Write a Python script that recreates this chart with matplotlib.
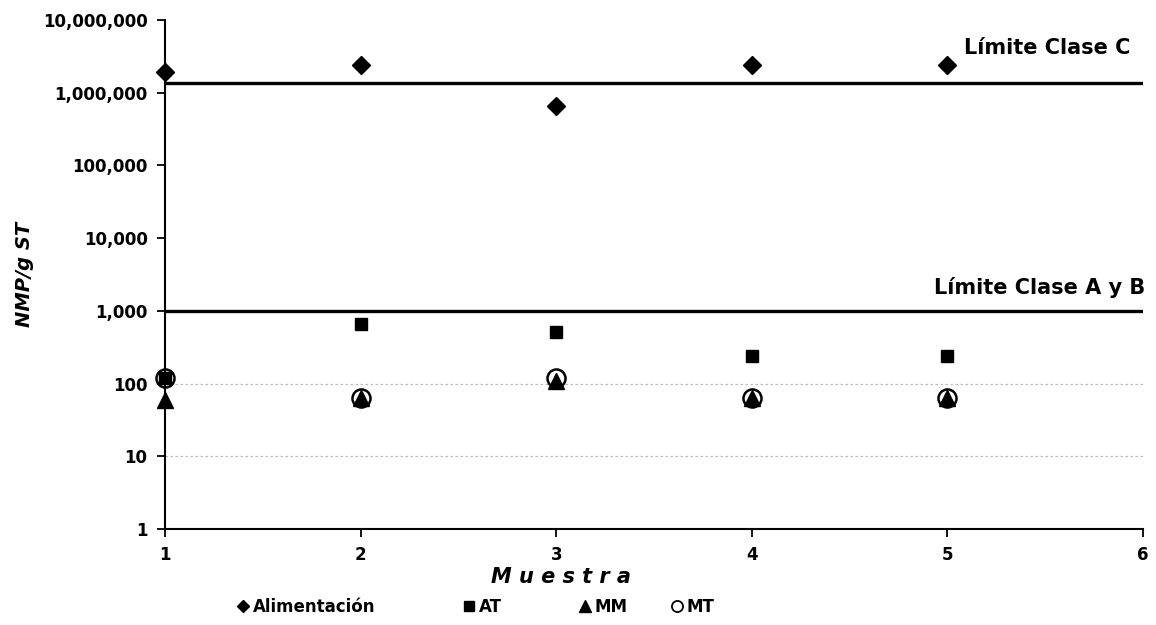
import matplotlib
matplotlib.use("Agg")
import matplotlib.pyplot as plt
from matplotlib.lines import Line2D
from matplotlib.ticker import FixedLocator, FuncFormatter

plt.rcParams['font.family'] = ['DejaVu Sans']

# Sample number
muestra = [1, 2, 3, 4, 5]

# NMP/g ST by sampling point
alimentacion = [1.9e6, 2.4e6, 6.5e5, 2.4e6, 2.4e6]
at_vals = [120, 650, 520, 240, 240]
mm_vals = [60, 64, 110, 64, 64]
mt_vals = [120, 64, 120, 64, 64]

# Regulatory limits
limite_c = 1.37e6
limite_ab = 1000

y_ticks = [1, 10, 100, 1000, 10000, 100000, 1000000, 10000000]
x_ticks = [1, 2, 3, 4, 5, 6]

W, H = 1156, 625
fig = plt.figure(figsize=(W / 100, H / 100), dpi=100)
ax = fig.add_axes([165 / W, 1 - 529 / H, 978 / W, 509 / H])

ax.set_yscale('log')
ax.set_ylim(1, 1e7)
ax.set_xlim(1, 6)

# faint gridlines
for g in (10, 100):
    ax.axhline(g, color='#bdbdbd', lw=0.9, ls=(0, (2, 2)), zorder=1)

ax.axhline(limite_c, color='black', lw=2.4, zorder=2)
ax.axhline(limite_ab, color='black', lw=2.4, zorder=2)

series = [
    ('Alimentación', alimentacion, dict(marker='D', ms=9.5, color='black'), 5),
    ('AT', at_vals, dict(marker='s', ms=9, color='black'), 4),
    ('MM', mm_vals, dict(marker='^', ms=12, color='black'), 5),
    ('MT', mt_vals, dict(marker='o', ms=13, mfc='none', mec='black', mew=1.8), 6),
]
for name, vals, style, z in series:
    ax.plot(muestra, vals, ls='none', label=name, zorder=z, clip_on=False, **style)

bold = dict(fontsize=15, fontweight='bold')
ax.text(0.987, limite_c * 3.0, 'Límite Clase C', ha='right', va='center',
        transform=ax.get_yaxis_transform(), **bold)
ax.text(1.002, limite_ab * 2.12, 'Límite Clase A y B', ha='right', va='center',
        transform=ax.get_yaxis_transform(), **bold)

ax.yaxis.set_major_locator(FixedLocator(y_ticks))
ax.yaxis.set_minor_locator(FixedLocator([]))
ax.yaxis.set_major_formatter(FuncFormatter(lambda v, p: f'{int(round(v)):,}'))
ax.xaxis.set_major_locator(FixedLocator(x_ticks))

for s in ('top', 'right'):
    ax.spines[s].set_visible(False)
ax.spines['left'].set_linewidth(1.5)
ax.spines['bottom'].set_linewidth(1.5)
ax.tick_params(axis='both', direction='out', length=5.5, width=1.3, labelsize=12)
ax.tick_params(axis='y', pad=7)
ax.tick_params(axis='x', pad=7)
for lab in ax.get_xticklabels() + ax.get_yticklabels():
    lab.set_fontweight('bold')

ax.set_xlabel('M u e s t r a', fontsize=15, fontweight='bold', style='italic')
ax.xaxis.label.set_va('center')
ax.xaxis.set_label_coords(0.405, -0.094)
ax.set_ylabel('NMP/g ST', fontsize=14, fontweight='bold', style='italic')
ax.yaxis.label.set_va('center')
ax.yaxis.set_label_coords(-0.144, 0.5)

# Legend entries along the bottom
legend_x = [236, 462, 578, 670]
legend_style = [
    dict(marker='D', ms=6.5, color='black'),
    dict(marker='s', ms=6.5, color='black'),
    dict(marker='^', ms=8, color='black'),
    dict(marker='o', ms=8, mfc='none', mec='black', mew=1.3),
]
for (name, _, _, _), x0, st in zip(series, legend_x, legend_style):
    h = Line2D([], [], ls='none', **st)
    fig.legend([h], [name], loc='center left', bbox_to_anchor=(x0 / W, 1 - 607 / H),
               frameon=False, handlelength=0.8, handletextpad=0.2, borderpad=0,
               borderaxespad=0, prop={'weight': 'bold', 'size': 12})

fig.savefig('out.png', dpi=100)
